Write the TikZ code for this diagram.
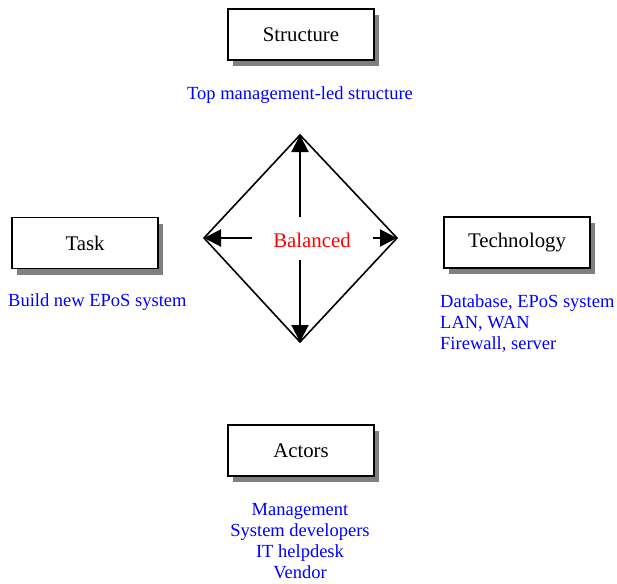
\documentclass[tikz,border=0pt]{standalone}
\usepackage{fontspec}
\setmainfont{Liberation Serif}
\usetikzlibrary{arrows.meta,shadows}
\definecolor{txtblue}{RGB}{0,0,255}
\definecolor{shadowgray}{RGB}{128,128,128}
\tikzset{
  box/.style={draw=black, line width=1.8pt, fill=white, minimum width=146pt, minimum height=51pt,
    inner sep=0pt, font=\fontsize{20.8}{24}\selectfont,
    drop shadow={shadow xshift=5pt, shadow yshift=-6pt, fill=shadowgray, opacity=1}},
  note/.style={text=txtblue, inner sep=0pt, font=\fontsize{18.5}{21}\selectfont},
  bal/.style={text=red, inner sep=0pt, font=\fontsize{20.8}{24}\selectfont},
  edge/.style={line width=1.6pt, line join=miter},
  arr/.style={line width=2pt, -{Triangle[length=17pt,width=17pt]}}
}
\begin{document}
\begin{tikzpicture}[x=1pt,y=-1pt]
\useasboundingbox (0,0) rectangle (617,583);
% boxes
\node[box] (structure) at (301,34.5) {Structure};
\node[box] (task) at (85,243) {Task};
\node[box] (technology) at (517,242.5) {Technology};
\node[box] (actors) at (301,450.5) {Actors};
% notes
\node[note, anchor=base] (structnote) at (300,99.5) {Top management-led structure};
\node[note, anchor=base west] (tasknote) at (8,306) {Build new EPoS system};
\node[note, anchor=north west, align=left] (technote) at (440,294.4) {Database, EPoS system\\LAN, WAN\\Firewall, server};
\node[note, anchor=north, align=center] (actornote) at (300,502.7) {Management\\System developers\\IT helpdesk\\Vendor};
% diamond
\coordinate (dtop) at (300,135);
\coordinate (dleft) at (204,238);
\coordinate (dright) at (397,238);
\coordinate (dbot) at (300,342);
\draw[edge] (dtop) -- (dright) -- (dbot) -- (dleft) -- cycle;
\node[bal, anchor=base] (balanced) at (312,247) {Balanced};
\coordinate (aup) at (300,217);
\coordinate (adown) at (300,260);
\coordinate (aleft) at (252,238);
\coordinate (aright) at (373,238);
\draw[arr] (aup) -- (dtop);
\draw[arr] (adown) -- (dbot);
\draw[arr] (aleft) -- (dleft);
\draw[arr] (aright) -- (dright);
\end{tikzpicture}
\end{document}
